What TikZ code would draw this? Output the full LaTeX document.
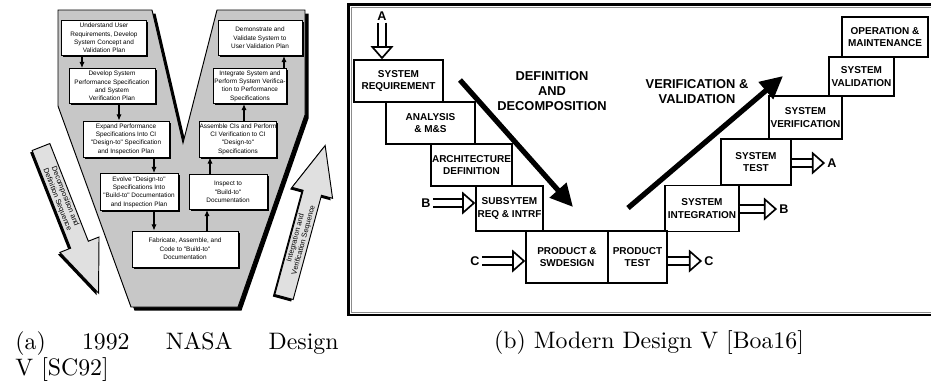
\documentclass[tikz,border=0pt]{standalone}
\usepackage{fontspec}
\usepackage{tikz}
\usetikzlibrary{arrows.meta,shadows}
\newfontfamily\vfont{Liberation Sans}
\tikzset{boxsize/.style 2 args={minimum width=#1*0.42pt,minimum height=#2*0.42pt}}

\begin{document}
\begin{tikzpicture}[x=0.42pt,y=-0.42pt]
		\tikzstyle{nasabox}=[draw=black,fill=white,line width=0.4pt,inner sep=0,align=center,font=\vfont\fontsize{2.7}{3.5}\selectfont,drop shadow={shadow xshift=0.7pt,shadow yshift=-0.7pt,fill=black,opacity=1}]
		\tikzstyle{flow}=[line width=0.45pt,-{Latex[length=2.6pt,width=2.2pt]}]
		\tikzstyle{seqtext}=[align=center,inner sep=0,font=\vfont\fontsize{3.1}{3.5}\selectfont]
		\tikzstyle{phase}=[draw=black,line width=0.6pt,inner sep=0,align=center,font=\vfont\bfseries\fontsize{4.2}{5.2}\selectfont]
		\tikzstyle{hollow}=[double=white,double distance=2.4pt,line width=0.7pt,-{Triangle[open,fill=white,length=5.5pt,width=9.5pt]}]
		\tikzstyle{thrust}=[line width=2.2pt,-{Triangle[length=9.5pt,width=9pt]}]
		\tikzstyle{portlabel}=[inner sep=0.8pt,font=\vfont\bfseries\fontsize{5.3}{6}\selectfont]
		\tikzstyle{phasetitle}=[align=center,inner sep=0,font=\vfont\bfseries\fontsize{5.4}{6.3}\selectfont]
		\useasboundingbox (0,0) rectangle (931,385);

		\fill[black,shift={(3.5,3.5)}] (58,10) -- (152,10) -- (183,143) -- (217,10) -- (305,10) -- (305,115) -- (238,307) -- (131,307) -- (58,106) -- cycle;
		\filldraw[fill=black!22,line width=0.4pt] (58,10) -- (152,10) -- (183,143) -- (217,10) -- (305,10) -- (305,115) -- (238,307) -- (131,307) -- (58,106) -- cycle;

		\foreach \name/\x/\y/\w/\h/\txt in {
				u1/104/38/85/35/{Understand User\\Requirements, Develop\\System Concept and\\Validation Plan},
				u2/112/86/86/35/{Develop System\\Performance Specification\\and System\\Verification Plan},
				u3/126/139/86/36/{Expand Performance\\Specifications Into CI\\"Design-to" Specification\\and Inspection Plan},
				u4/139/192/78/37/{Evolve "Design-to"\\Specifications Into\\"Build-to" Documentation\\and Inspection Plan},
				u5/185/249/106/36/{Fabricate, Assemble, and\\Code to "Build-to"\\Documentation},
				u6/228/192/78/35/{Inspect to\\"Build-to"\\Documentation},
				u7/238/139/77/36/{Assemble CIs and Perform\\CI Verification to CI\\"Design-to"\\Specifications},
				u8/250/86/73/35/{Integrate System and\\Perform System Verifica-\\tion to Performance\\Specifications},
				u9/260/38/84/35/{Demonstrate and\\Validate System to\\User Validation Plan}}
			\node[nasabox,boxsize={\w}{\h}] (\name) at (\x,\y) {\txt};

		\foreach \a/\b/\x in {u1/u2/82,u2/u3/119,u3/u4/154,u4/u5/154}
			\draw[flow] (\a.south -| \x,0) -- (\b.north -| \x,0);
		\foreach \a/\b/\x in {u5/u6/207,u6/u7/210,u7/u8/244,u8/u9/284}
			\draw[flow] (\a.north -| \x,0) -- (\b.south -| \x,0);

		\begin{scope}[shift={(39,149)},rotate=-68.5]
			\fill[black] (0,-9.5) -- (105,-9.5) -- (105,-21) -- (157,0) -- (105,21) -- (105,9.5) -- (0,9.5) -- cycle;
		\end{scope}
		\begin{scope}[shift={(41,147)},rotate=-68.5]
			\filldraw[fill=black!12,line width=0.4pt] (0,-9.5) -- (105,-9.5) -- (105,-21) -- (157,0) -- (105,21) -- (105,9.5) -- (0,9.5) -- cycle;
			\node[seqtext,rotate=-68.5] (decomp) at (55,0) {Decomposition and\\Definition Sequence};
		\end{scope}
		\begin{scope}[shift={(282,299)},rotate=74.8]
			\fill[black] (0,-9.5) -- (108,-9.5) -- (108,-21) -- (157,0) -- (108,21) -- (108,9.5) -- (0,9.5) -- cycle;
		\end{scope}
		\begin{scope}[shift={(284,297)},rotate=74.8]
			\filldraw[fill=black!12,line width=0.4pt] (0,-9.5) -- (108,-9.5) -- (108,-21) -- (157,0) -- (108,21) -- (108,9.5) -- (0,9.5) -- cycle;
			\node[seqtext,rotate=74.8] (integ) at (60,0) {Integration and\\Verification Sequence};
		\end{scope}

		\node[anchor=north west,text width=135.7pt,align=justify,inner sep=0,font=\fontsize{10}{9.7}\selectfont] (capa) at (15,331) {(a) 1992 NASA Design\linebreak V [SC92]};

		\draw[line width=1pt] (348.5,4.5) rectangle (945,315);
		\draw[black!45,line width=0.4pt] (351.5,7.5) rectangle (945,312);

		\foreach \name/\x/\y/\w/\h/\txt in {
				sysreq/398.5/81/89/42/{SYSTEM\\REQUIREMENT},
				analysis/430.5/123/89/42/{ANALYSIS\\\& M\&S},
				archdef/471.5/165/81/42/{ARCHITECTURE\\DEFINITION},
				subsys/509.5/208.5/67/45/{SUBSYTEM\\REQ \& INTRF},
				prodsw/567/257/82/52/{PRODUCT \&\\SWDESIGN},
				prodtest/637.5/257/59/52/{PRODUCT\\TEST},
				sysint/702/208.5/74/46/{SYSTEM\\INTEGRATION},
				systest/756/162/70/46/{SYSTEM\\TEST},
				sysver/805.5/117.5/73/43/{SYSTEM\\VERIFICATION},
				sysval/861.5/76.5/65/39/{SYSTEM\\VALIDATION},
				opmaint/885/37/86/40/{OPERATION \&\\MAINTENANCE}}
			\node[phase,boxsize={\w}{\h}] (\name) at (\x,\y) {\txt};

		\node[phasetitle] (defdec) at (552,91) {DEFINITION\\AND\\DECOMPOSITION};
		\node[phasetitle] (verval) at (697,92) {VERIFICATION \&\\VALIDATION};
		\coordinate (downtail) at (460,80);
		\coordinate (downtip) at (573,207);
		\coordinate (uptail) at (628,208);
		\coordinate (uptip) at (783,76);
		\draw[thrust] (downtail) -- (downtip);
		\draw[thrust] (uptail) -- (uptip);

		\node[portlabel] (atop) at (382,16) {A};
		\node[portlabel] (bin) at (426,203) {B};
		\node[portlabel] (cin) at (475,261) {C};
		\node[portlabel] (aout) at (832,163) {A};
		\node[portlabel] (bout) at (784,209) {B};
		\node[portlabel] (cout) at (709,261) {C};
		\draw[hollow] (atop.south) -- (atop.south |- sysreq.north);
		\draw[hollow] (bin.east) -- (bin.east -| subsys.west);
		\draw[hollow] (cin.east) -- (cin.east -| prodsw.west);
		\draw[hollow] (aout.west -| systest.east) -- (aout.west);
		\draw[hollow] (bout.west -| sysint.east) -- (bout.west);
		\draw[hollow] (cout.west -| prodtest.east) -- (cout.west);

		\node[anchor=base] (capb) at (649,348) {(b) Modern Design V [Boa16]};
	\end{tikzpicture}
\end{document}
